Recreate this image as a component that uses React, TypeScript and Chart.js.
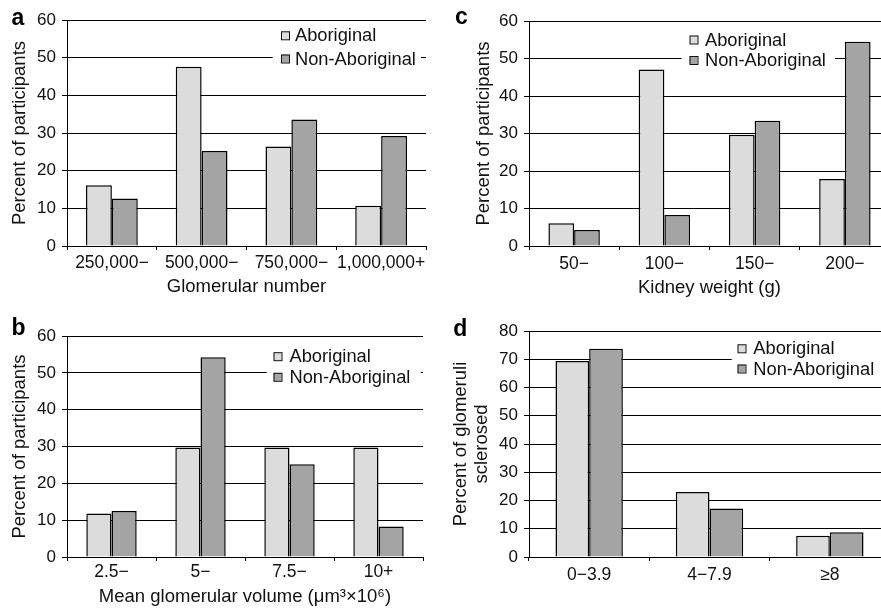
import React, { useEffect, useRef } from "react";
import { Chart, registerables } from "chart.js";
Chart.register(...registerables);

// ---- data ----
const seriesNames = ["Aboriginal", "Non-Aboriginal"];
const seriesColors = ["#dcdcdc", "#a4a4a4"];

const glomNumberCats = ["250,000\u2212", "500,000\u2212", "750,000\u2212", "1,000,000+"];
const glomNumberAbo = [16.1, 47.6, 26.4, 10.7];
const glomNumberNon = [12.6, 25.2, 33.6, 29.2];

const kidneyCats = ["50\u2212", "100\u2212", "150\u2212", "200\u2212"];
const kidneyAbo = [6.1, 47.1, 29.7, 17.9];
const kidneyNon = [4.3, 8.3, 33.4, 54.5];

const volumeCats = ["2.5\u2212", "5\u2212", "7.5\u2212", "10+"];
const volumeAbo = [11.8, 29.7, 29.7, 29.7];
const volumeNon = [12.5, 54.2, 25.2, 8.3];

const sclerCats = ["0\u22123.9", "4\u22127.9", "\u22658"];
const sclerAbo = [69.4, 23.0, 7.5];
const sclerNon = [73.7, 17.2, 8.8];

const participantsMax = 60;
const sclerosedMax = 80;
const yStep = 10;

const FONT = "'Liberation Sans', Arial, Helvetica, sans-serif";

type Panel = {
  letter: string;
  left: number; top: number; w: number; h: number; cw: number;
  cats: string[]; abo: number[]; non: number[];
  yMax: number;
  yTitle: string | string[]; yTitlePad: number; yTitleLH: number;
  xTitle: string; xTitlePad: number;
  yW: number; xH: number; padTop: number; padRight: number;
  xTickPad: number; catPct: number;
  lg: { bx0: number; bx1: number; rows: number[]; sqX: number; textX: number };
  lt: { x: number; y: number };
};

const panels: Panel[] = [
  {
    letter: "a", left: 0, top: 0, w: 440, h: 300, cw: 440,
    cats: glomNumberCats, abo: glomNumberAbo, non: glomNumberNon, yMax: participantsMax,
    yTitle: "Percent of participants", yTitlePad: 9, yTitleLH: 1.2,
    xTitle: "Glomerular number", xTitlePad: 2,
    yW: 67, xH: 54, padTop: 20, padRight: 14, xTickPad: 3, catPct: 0.577,
    lg: { bx0: 272.7, bx1: 421, rows: [35.8, 59], sqX: 281, textX: 295 },
    lt: { x: 11.5, y: 25 },
  },
  {
    letter: "b", left: 0, top: 300, w: 440, h: 315, cw: 440,
    cats: volumeCats, abo: volumeAbo, non: volumeNon, yMax: participantsMax,
    yTitle: "Percent of participants", yTitlePad: 9, yTitleLH: 1.2,
    xTitle: "Mean glomerular volume (\u03bcm\u00b3\u00d710\u2076)", xTitlePad: 7,
    yW: 67, xH: 58, padTop: 36, padRight: 17, xTickPad: 1, catPct: 0.566,
    lg: { bx0: 266.7, bx1: 420.7, rows: [56.7, 77.3], sqX: 273.5, textX: 289.5 },
    lt: { x: 11.5, y: 35 },
  },
  {
    letter: "c", left: 440, top: 0, w: 441, h: 300, cw: 460,
    cats: kidneyCats, abo: kidneyAbo, non: kidneyNon, yMax: participantsMax,
    yTitle: "Percent of participants", yTitlePad: 33, yTitleLH: 1.2,
    xTitle: "Kidney weight (g)", xTitlePad: 1,
    yW: 89, xH: 54, padTop: 21, padRight: 10, xTickPad: 4, catPct: 0.57,
    lg: { bx0: 241.7, bx1: 395, rows: [40, 60.5], sqX: 249.5, textX: 265 },
    lt: { x: 15, y: 23.5 },
  },
  {
    letter: "d", left: 440, top: 300, w: 441, h: 315, cw: 460,
    cats: sclerCats, abo: sclerAbo, non: sclerNon, yMax: sclerosedMax,
    yTitle: ["Percent of glomeruli", "sclerosed"], yTitlePad: 11, yTitleLH: 1.12,
    xTitle: "", xTitlePad: 0,
    yW: 89, xH: 58, padTop: 31, padRight: 10, xTickPad: 4, catPct: 0.56,
    lg: { bx0: 291.7, bx1: 470, rows: [48.8, 69], sqX: 297.5, textX: 313.3 },
    lt: { x: 13.3, y: 36 },
  },
];

function PanelChart({ p }: { p: Panel }) {
  const ref = useRef<HTMLCanvasElement | null>(null);
  useEffect(() => {
    const canvas = ref.current;
    if (!canvas) return;
    const overlay = {
      id: "overlay" + p.letter,
      afterDraw(chart: any) {
        const ctx = chart.ctx;
        ctx.save();
        // legend
        const top = p.lg.rows[0] - 13;
        const bottom = p.lg.rows[p.lg.rows.length - 1] + 12;
        ctx.fillStyle = "#ffffff";
        ctx.fillRect(p.lg.bx0, top, p.lg.bx1 - p.lg.bx0, bottom - top);
        chart.data.datasets.forEach((ds: any, i: number) => {
          const cy = p.lg.rows[i];
          ctx.fillStyle = ds.backgroundColor;
          ctx.fillRect(p.lg.sqX, cy - 4.5, 8, 8);
          ctx.strokeStyle = "#111";
          ctx.lineWidth = 1;
          ctx.strokeRect(p.lg.sqX + 0.5, cy - 4, 8, 8);
          ctx.fillStyle = "#111";
          ctx.font = `18.3px ${FONT}`;
          ctx.textBaseline = "middle";
          ctx.textAlign = "left";
          ctx.fillText(ds.label, p.lg.textX, cy + 0.5);
        });
        // panel letter
        ctx.fillStyle = "#000";
        ctx.font = `bold 23px ${FONT}`;
        ctx.textBaseline = "alphabetic";
        ctx.textAlign = "left";
        ctx.fillText(p.letter, p.lt.x, p.lt.y);
        ctx.restore();
      },
    };
    const chart = new Chart(canvas, {
      type: "bar",
      data: {
        labels: p.cats,
        datasets: [
          { label: seriesNames[0], data: p.abo, backgroundColor: seriesColors[0] },
          { label: seriesNames[1], data: p.non, backgroundColor: seriesColors[1] },
        ].map((d) => ({
          ...d,
          borderColor: "#000",
          borderWidth: 1.5,
          categoryPercentage: p.catPct,
          barPercentage: 1.0,
        })),
      },
      options: {
        responsive: false,
        animation: false,
        devicePixelRatio: 1,
        layout: { padding: { top: p.padTop, right: p.padRight, left: 0, bottom: 0 } },
        plugins: { legend: { display: false }, tooltip: { enabled: false }, title: { display: false } },
        scales: {
          x: {
            afterFit: (s: any) => { s.height = p.xH; },
            grid: { display: true, drawOnChartArea: false, drawTicks: true, tickLength: 4, color: "#000", lineWidth: 1, offset: true },
            border: { display: true, color: "#000", width: 1 },
            ticks: { color: "#111", padding: p.xTickPad, font: { family: FONT, size: 17.5 }, maxRotation: 0, autoSkip: false },
            title: {
              display: p.xTitle !== "",
              text: p.xTitle,
              color: "#111",
              font: { family: FONT, size: 18.5 },
              padding: { top: 0, bottom: p.xTitlePad },
            },
          },
          y: {
            min: 0,
            max: p.yMax,
            afterFit: (s: any) => { s.width = p.yW; },
            grid: { display: true, drawOnChartArea: true, drawTicks: true, tickLength: 5, color: "#000", lineWidth: 1 },
            border: { display: true, color: "#000", width: 1 },
            ticks: { stepSize: yStep, color: "#111", padding: 6, font: { family: FONT, size: 17 } },
            title: {
              display: true,
              text: p.yTitle,
              color: "#111",
              font: { family: FONT, size: 18.5, lineHeight: p.yTitleLH },
              padding: { top: p.yTitlePad, bottom: 0 },
            },
          },
        },
      },
      plugins: [overlay],
    } as any);
    return () => chart.destroy();
  }, [p]);
  return (
    <div style={{ position: "absolute", left: p.left, top: p.top, width: p.w, height: p.h, overflow: "hidden" }}>
      <canvas ref={ref} width={p.cw} height={p.h} style={{ width: p.cw, height: p.h, display: "block" }} />
    </div>
  );
}

export default function App() {
  return (
    <div style={{ position: "fixed", left: 0, top: 0, width: 881, height: 615, overflow: "hidden", background: "#fff" }}>
      {panels.map((p) => (
        <PanelChart key={p.letter} p={p} />
      ))}
    </div>
  );
}
